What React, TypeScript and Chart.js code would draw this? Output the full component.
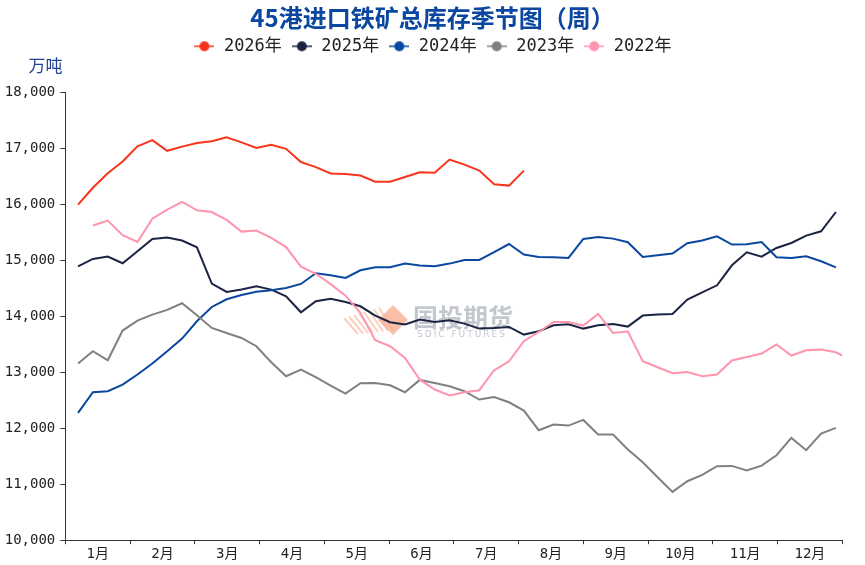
import React, { useEffect, useRef } from 'react';
import { Chart, registerables } from 'chart.js';

Chart.register(...registerables);

const TITLE = '45港进口铁矿总库存季节图（周）';
const UNIT = '万吨';
const MONTHS = ['1月', '2月', '3月', '4月', '5月', '6月', '7月', '8月', '9月', '10月', '11月', '12月'];
const SERIES_NAMES = ['2026年', '2025年', '2024年', '2023年', '2022年'];
const SERIES_COLORS = ['#F8341B', '#1C2444', '#0A47A0', '#808080', '#FF94AE'];

const Y_MIN = 10000;
const Y_MAX = 18000;
const Y_STEP = 1000;

// weekly observations (万吨)
const s2026 = [15990, 16290, 16550, 16760, 17030, 17140, 16950, 17025, 17090, 17120, 17190, 17100, 17000, 17060, 16985, 16750, 16660, 16545, 16535, 16508, 16400, 16400, 16483, 16567, 16560, 16793, 16704, 16597, 16353, 16329, 16597];
const s2025 = [14889, 15020, 15062, 14943, 15157, 15377, 15401, 15348, 15228, 14580, 14431, 14473, 14532, 14473, 14354, 14068, 14265, 14310, 14252, 14175, 14009, 13890, 13849, 13938, 13896, 13926, 13866, 13777, 13789, 13807, 13670, 13729, 13836, 13855, 13777, 13836, 13860, 13813, 14009, 14027, 14038, 14295, 14425, 14550, 14907, 15139, 15062, 15216, 15305, 15437, 15514, 15858];
const s2024 = [12272, 12641, 12659, 12778, 12957, 13153, 13373, 13599, 13908, 14163, 14300, 14378, 14434, 14461, 14502, 14574, 14764, 14729, 14681, 14818, 14871, 14871, 14937, 14902, 14889, 14937, 15002, 15002, 15144, 15287, 15098, 15056, 15050, 15038, 15377, 15412, 15383, 15318, 15056, 15086, 15116, 15300, 15348, 15425, 15276, 15282, 15323, 15050, 15038, 15068, 14979, 14871];
const s2023 = [13153, 13373, 13212, 13742, 13920, 14027, 14110, 14229, 14015, 13789, 13699, 13610, 13462, 13176, 12926, 13046, 12909, 12760, 12617, 12802, 12807, 12766, 12641, 12861, 12807, 12748, 12659, 12510, 12557, 12462, 12314, 11963, 12064, 12046, 12147, 11886, 11886, 11618, 11392, 11124, 10862, 11053, 11166, 11320, 11326, 11243, 11332, 11517, 11826, 11606, 11903, 12004];
const s2022 = [null, 15616, 15705, 15443, 15323, 15740, 15901, 16037, 15889, 15858, 15716, 15508, 15526, 15395, 15232, 14883, 14755, 14570, 14365, 14060, 13569, 13462, 13253, 12865, 12689, 12582, 12641, 12677, 13033, 13194, 13551, 13717, 13896, 13896, 13831, 14040, 13699, 13724, 13194, 13087, 12980, 13003, 12926, 12957, 13207, 13271, 13331, 13492, 13296, 13390, 13403, 13355, 13220];

const SERIES = [s2026, s2025, s2024, s2023, s2022];

// x axis: day of year; week k sits at day FIRST_DAY + 7k
const YEAR_DAYS = 366;
const FIRST_DAY = 6;
const WEEK_DAYS = 7;

const MONO = "'DejaVu Sans Mono', 'Noto Sans CJK SC', monospace";
const CJK = "'Noto Sans CJK SC', 'Noto Sans', sans-serif";

function makeMarker(color: string): HTMLCanvasElement {
  const c = document.createElement('canvas');
  c.width = 20;
  c.height = 12;
  const g = c.getContext('2d')!;
  g.strokeStyle = color;
  g.lineWidth = 1.5;
  g.beginPath();
  g.moveTo(0, 6);
  g.lineTo(20, 6);
  g.stroke();
  g.fillStyle = color;
  g.beginPath();
  g.arc(10, 6, 5, 0, Math.PI * 2);
  g.fill();
  return c;
}

const decorPlugin = {
  id: 'decor',
  beforeDatasetsDraw(chart: any) {
    const ctx = chart.ctx as CanvasRenderingContext2D;
    ctx.save();
    // watermark logo
    ctx.strokeStyle = 'rgba(250,170,140,0.55)';
    ctx.lineWidth = 2;
    for (let k = 0; k < 8; k++) {
      const x0 = 344 + k * 5;
      ctx.beginPath();
      ctx.moveTo(x0, 320 - 2 - k * 1.5);
      ctx.lineTo(x0 + 14, 334 - k * 0.5);
      ctx.stroke();
    }
    ctx.fillStyle = 'rgba(250,170,140,0.75)';
    ctx.beginPath();
    ctx.moveTo(393, 305);
    ctx.lineTo(408, 320);
    ctx.lineTo(393, 335);
    ctx.lineTo(378, 320);
    ctx.closePath();
    ctx.fill();
    ctx.fillStyle = 'rgba(175,180,190,0.75)';
    ctx.font = `bold 25px ${CJK}`;
    ctx.textBaseline = 'alphabetic';
    ctx.textAlign = 'left';
    ctx.fillText('国投期货', 413, 327);
    ctx.font = `9px 'DejaVu Sans', sans-serif`;
    (ctx as any).letterSpacing = '2px';
    ctx.fillStyle = 'rgba(180,185,195,0.8)';
    ctx.fillText('SDIC FUTURES', 417, 337);
    ctx.restore();
  },
  afterDraw(chart: any) {
    const ctx = chart.ctx as CanvasRenderingContext2D;
    ctx.save();
    ctx.fillStyle = '#1F4196';
    ctx.font = `17px ${CJK}`;
    ctx.textAlign = 'center';
    ctx.textBaseline = 'middle';
    ctx.fillText(UNIT, 45.5, 66);
    ctx.restore();
  },
};

export default function App() {
  const ref = useRef<HTMLCanvasElement | null>(null);

  useEffect(() => {
    if (!ref.current) return;
    const markers = SERIES_COLORS.map(makeMarker);
    const datasets = SERIES.map((vals, si) => ({
      label: SERIES_NAMES[si],
      data: vals.map((v, i) => ({ x: FIRST_DAY + WEEK_DAYS * i, y: v })),
      borderColor: SERIES_COLORS[si],
      backgroundColor: SERIES_COLORS[si],
      borderWidth: 2,
      pointRadius: 0,
      tension: 0,
      order: SERIES.length - si,
    }));

    const monthLen = YEAR_DAYS / MONTHS.length;
    const xTicks: number[] = [];
    for (let k = 0; k <= MONTHS.length; k++) {
      xTicks.push(k * monthLen);
      if (k < MONTHS.length) xTicks.push(k * monthLen + monthLen / 2);
    }

    const chart = new Chart(ref.current, {
      type: 'line',
      data: { datasets },
      plugins: [decorPlugin],
      options: {
        animation: false,
        responsive: true,
        maintainAspectRatio: false,
        layout: { padding: { left: 0, right: 0, top: 0, bottom: 0 } },
        plugins: {
          title: {
            display: true,
            text: TITLE,
            color: '#0B47A1',
            font: { size: 24, weight: 'bold', family: CJK, lineHeight: 0.95 },
            padding: { top: 6, bottom: 0 },
          },
          subtitle: {
            display: true,
            text: ' ',
            font: { size: 10, lineHeight: 1 },
            padding: { top: 0, bottom: 17.2 },
            weight: 500,
          } as any,
          legend: {
            display: true,
            labels: {
              usePointStyle: true,
              pointStyleWidth: 22,
              padding: 9,
              color: '#222',
              font: { size: 17, family: MONO },
              generateLabels: (ch: any) =>
                ch.data.datasets.map((ds: any, i: number) => ({
                  text: ds.label,
                  fillStyle: ds.borderColor,
                  strokeStyle: ds.borderColor,
                  lineWidth: 0,
                  pointStyle: markers[i],
                  hidden: false,
                  datasetIndex: i,
                  fontColor: '#222',
                })),
            },
          },
          tooltip: { enabled: false },
        },
        scales: {
          x: {
            type: 'linear',
            min: 0,
            max: YEAR_DAYS,
            afterBuildTicks: (axis: any) => {
              axis.ticks = xTicks.map((v) => ({ value: v }));
            },
            grid: {
              drawOnChartArea: false,
              drawTicks: true,
              tickLength: 4,
              tickColor: (c: any) => (c.index % 2 === 0 ? '#333' : 'rgba(0,0,0,0)'),
            },
            border: { display: true, color: '#333', width: 1 },
            ticks: {
              autoSkip: false,
              maxRotation: 0,
              padding: 2,
              color: '#222',
              font: { size: 14, family: MONO },
              callback: (_v: any, idx: number) => (idx % 2 === 1 ? MONTHS[(idx - 1) / 2] : ''),
            },
          },
          y: {
            type: 'linear',
            min: Y_MIN,
            max: Y_MAX,
            afterFit: (s: any) => {
              s.width = 65.3;
            },
            grid: { drawOnChartArea: false, drawTicks: true, tickLength: 5, tickColor: '#333' },
            border: { display: true, color: '#333', width: 1 },
            ticks: {
              stepSize: Y_STEP,
              padding: 5,
              color: '#222',
              font: { size: 14, family: MONO },
              callback: (v: any) => Number(v).toLocaleString('en-US'),
            },
          },
          yRight: {
            type: 'linear',
            position: 'right',
            display: true,
            grid: { display: false, drawTicks: false },
            border: { display: false },
            ticks: { display: false },
            afterFit: (s: any) => {
              s.width = 22.7;
            },
          },
        },
      } as any,
    });
    return () => chart.destroy();
  }, []);

  return (
    <div style={{ position: 'fixed', left: 0, top: 0, width: 865, height: 565, background: '#fff' }}>
      <canvas ref={ref} />
    </div>
  );
}
